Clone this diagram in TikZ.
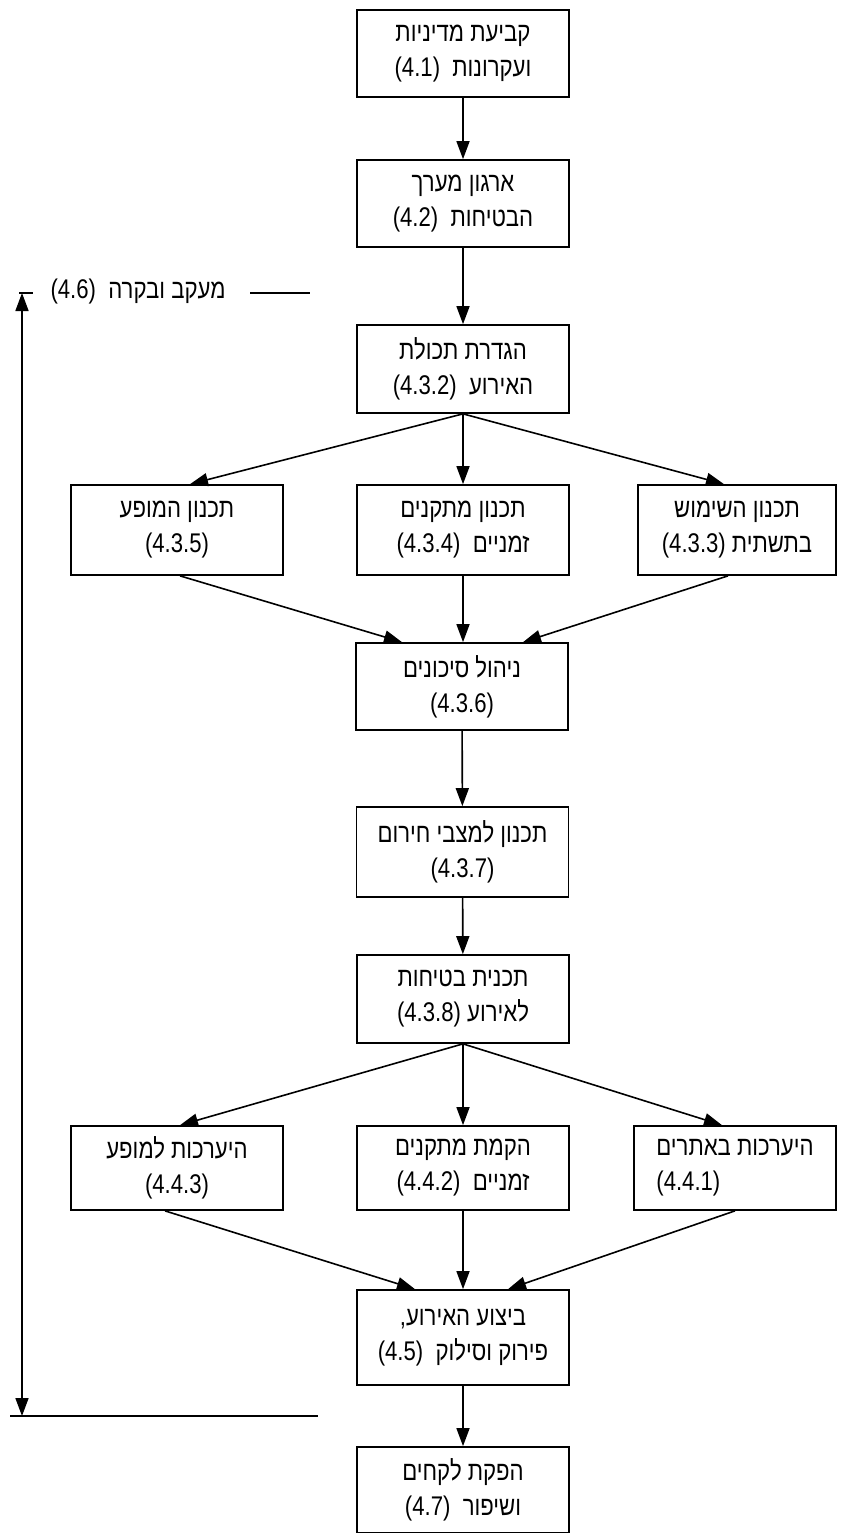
\documentclass[tikz,border=0pt]{standalone}
\usepackage{fontspec}
\setmainfont{Liberation Sans}[FakeStretch=0.82]
\newfontfamily\hebfont[Script=Hebrew,FakeStretch=0.82]{Liberation Sans}
\TeXXeTstate=1
\usetikzlibrary{arrows.meta}
\newcommand{\hebt}[1]{{\hebfont\beginR #1\endR}}
\begin{document}
\begin{tikzpicture}[x=1pt,y=-1pt,
  box/.style={draw, line width=1.7pt, minimum width=212pt, minimum height=88pt,
    align=center, inner sep=0pt, font=\fontsize{27}{35}\selectfont},
  arr/.style={line width=1.6pt, -{Triangle[length=18pt,width=13pt]}},
  plain/.style={line width=1.6pt}]
\useasboundingbox (0,0) rectangle (842,1533);
% main column
\node[box, minimum height=87pt] (b1) at (463,53.5) {\hebt{קביעת מדיניות}\\(4.1)~~\hebt{ועקרונות}};
\node[box, minimum height=87pt] (b2) at (463,203.5) {\hebt{ארגון מערך}\\(4.2)~~\hebt{הבטיחות}};
\node[box] (b3) at (463,369) {\hebt{הגדרת תכולת}\\(4.3.2)~~\hebt{האירוע}};
% row A
\node[box, minimum height=90pt] (a1) at (177,530) {\hebt{תכנון המופע}\\(4.3.5)};
\node[box, minimum height=90pt] (a2) at (463,530) {\hebt{תכנון מתקנים}\\(4.3.4)~~\hebt{זמניים}};
\node[box, minimum height=90pt, minimum width=198pt] (a3) at (737,530) {\hebt{תכנון השימוש}\\(4.3.3)~\hebt{בתשתית}};
\node[box, minimum height=87pt] (risk) at (462,686.5) {\hebt{ניהול סיכונים}\\(4.3.6)};
\node[box, minimum height=90pt] (emer) at (462.5,852) {\hebt{תכנון למצבי חירום}\\(4.3.7)};
\node[box] (plan) at (463,999) {\hebt{תכנית בטיחות}\\(4.3.8)~\hebt{לאירוע}};
% row B
\node[box, minimum height=84pt] (c1) at (177,1168) {\hebt{היערכות למופע}\\(4.4.3)};
\node[box, minimum height=84pt] (c2) at (463,1168) {\hebt{הקמת מתקנים}\\(4.4.2)~~\hebt{זמניים}};
\node[box, minimum height=84pt, minimum width=202pt, align=left] (c3) at (735,1168) {\hebt{היערכות באתרים}\\(4.4.1)};
\node[box, minimum height=95pt] (exec) at (463,1337.5) {,\hebt{ביצוע האירוע}\\(4.5)~~\hebt{פירוק וסילוק}};
\node[box, minimum height=86pt] (less) at (463,1490) {\hebt{הפקת לקחים}\\(4.7)~~\hebt{ושיפור}};
% arrows main
\draw[arr] (b1) -- (b2);
\draw[arr] (b2) -- (b3);
\draw[arr] (b3.south) -- ([xshift=13pt]a1.north);
\draw[arr] (b3.south) -- (a2.north);
\draw[arr] (b3.south) -- ([xshift=-13pt]a3.north);
\draw[arr] ([xshift=3pt]a1.south) -- ([xshift=-60pt]risk.north);
\draw[arr] (a2.south) -- ([xshift=1pt]risk.north);
\draw[arr] ([xshift=-9pt]a3.south) -- ([xshift=61pt]risk.north);
\draw[arr] (risk) -- (emer);
\draw[arr] (emer) -- (plan);
\draw[arr] (plan.south) -- ([xshift=3pt]c1.north);
\draw[arr] (plan.south) -- (c2.north);
\draw[arr] (plan.south) -- ([xshift=-13pt]c3.north);
\draw[arr] ([xshift=-12pt]c1.south) -- ([xshift=-48pt]exec.north);
\draw[arr] (c2.south) -- (exec.north);
\draw[arr] (c3.south) -- ([xshift=45pt]exec.north);
\draw[arr] (exec) -- (less);
% monitoring loop
\node[font=\fontsize{27}{30}\selectfont, inner sep=0pt] (mon) at (138,292) {(4.6)~~\hebt{מעקב ובקרה}};
\coordinate (ft) at (22,293);
\coordinate (fb) at (22,1416);
\coordinate (tl) at (19,293);
\coordinate (tr) at (33,293);
\coordinate (ml) at (250,293);
\coordinate (mr) at (310,293);
\coordinate (bl) at (10,1416);
\coordinate (br) at (318,1416);
\draw[line width=1.6pt, {Triangle[length=18pt,width=13pt]}-{Triangle[length=18pt,width=13pt]}] (ft) -- (fb);
\draw[plain] (tl) -- (tr);
\draw[plain] (ml) -- (mr);
\draw[plain] (bl) -- (br);
\end{tikzpicture}
\end{document}
